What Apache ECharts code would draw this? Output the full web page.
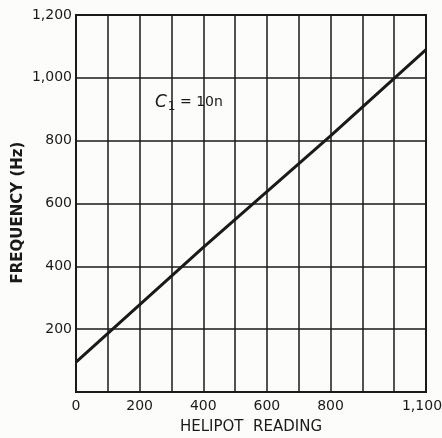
<!DOCTYPE html>
<html>
<head>
<meta charset="utf-8">
<script src="https://cdn.jsdelivr.net/npm/echarts@6/dist/echarts.min.js"></script>
<style>
  html, body { margin: 0; padding: 0; background: #fcfcfa; }
  #chart { width: 442px; height: 438px; }
</style>
</head>
<body>
<div id="chart"></div>
<script>
// helipot reading vs frequency
const helipot = [0, 400, 800, 1100]
const frequency = [95, 460, 815, 1090]
const xLabelsShown = [0, 200, 400, 600, 800, 1100]

const ink = '#1a1a1a'
const font = 'DejaVu Sans'

function fmt(v) {
  return v >= 1000 ? Math.floor(v / 1000) + ',' + String(v % 1000).padStart(3, '0') : String(v)
}

const chart = echarts.init(document.getElementById('chart'))
chart.setOption({
  backgroundColor: '#fcfcfa',
  animation: false,
  grid: { left: 76, right: 16, top: 15, bottom: 46, containLabel: false, outerBoundsMode: 'none' },
  xAxis: {
    type: 'value',
    min: 0,
    max: 1100,
    interval: 100,
    name: 'HELIPOT  READING',
    nameLocation: 'middle',
    nameGap: 28,
    nameTextStyle: { color: ink, fontFamily: font, fontSize: 15 },
    axisLine: { lineStyle: { color: ink, width: 2 } },
    axisTick: { show: false },
    axisLabel: {
      color: ink, fontFamily: font, fontSize: 14, margin: 7,
      formatter: v => v === 1100 ? '{last|' + fmt(v) + '}' : (xLabelsShown.includes(v) ? fmt(v) : ''),
      rich: {
        last: { fontFamily: font, fontSize: 14, color: ink, padding: [0, 8, 0, 0] }
      }
    },
    splitLine: { lineStyle: { color: ink, width: 1.5 } }
  },
  yAxis: {
    type: 'value',
    min: 0,
    max: 1200,
    interval: 200,
    name: 'FREQUENCY (Hz)',
    nameLocation: 'middle',
    nameGap: 50,
    nameMoveOverlap: false,
    nameTextStyle: { color: ink, fontFamily: font, fontSize: 15, fontWeight: 'bold', padding: [0, 18, 0, 0] },
    axisLine: { lineStyle: { color: ink, width: 2 } },
    axisTick: { show: false },
    axisLabel: {
      color: ink, fontFamily: font, fontSize: 14, margin: 4,
      formatter: v => v === 0 ? '' : fmt(v)
    },
    splitLine: { lineStyle: { color: ink, width: 1.5 } }
  },
  series: [{
    type: 'line',
    data: helipot.map((x, i) => [x, frequency[i]]),
    symbol: 'none',
    lineStyle: { color: ink, width: 3 }
  }],
  graphic: [
    {
      type: 'rect',
      shape: { x: 76, y: 15, width: 350, height: 377 },
      style: { fill: 'none', stroke: ink, lineWidth: 2 },
      silent: true
    },
    {
      type: 'text',
      x: 152,
      y: 90,
      style: {
        text: '{c|C}{s|1}{t| = 10n}',
        fill: ink,
        backgroundColor: '#fcfcfa',
        padding: [2, 3],
        rich: {
          c: { fontFamily: font, fontStyle: 'italic', fontSize: 17, fill: ink },
          s: { fontFamily: font, fontSize: 12, fill: ink, padding: [9, 0, 0, 1] },
          t: { fontFamily: font, fontSize: 14, fill: ink }
        }
      }
    }
  ]
})
</script>
</body>
</html>
